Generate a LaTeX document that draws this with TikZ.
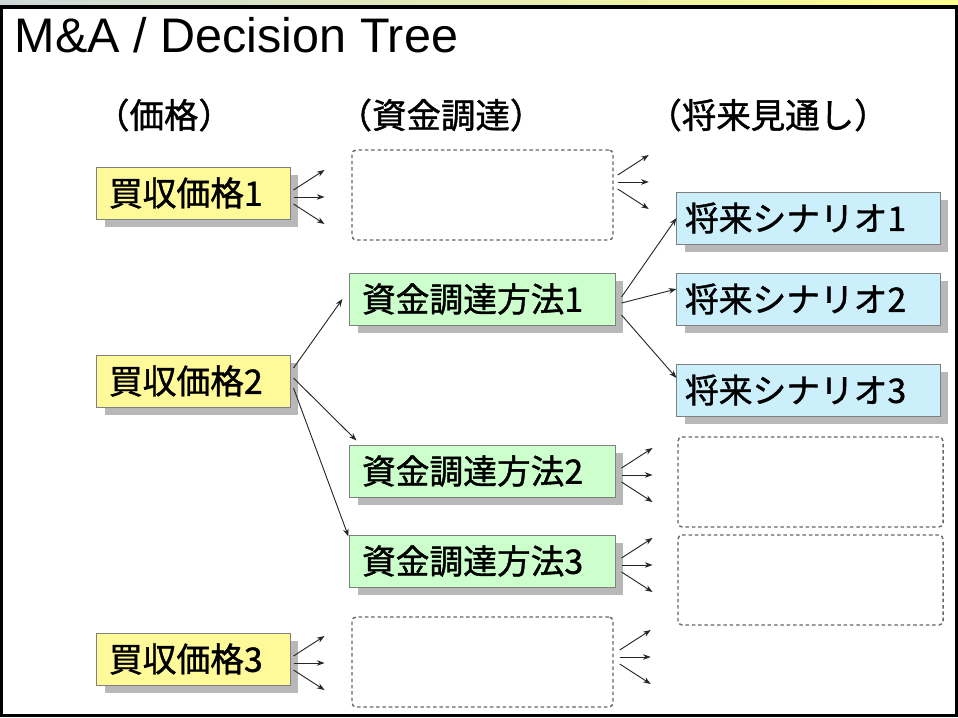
\documentclass[tikz,border=0pt]{standalone}
\usepackage{fontspec}
\setmainfont{Liberation Sans}
\newfontfamily\jpfont{Noto Sans CJK JP}[FakeBold=1.2]
\usetikzlibrary{arrows.meta,shadows}

\begin{document}
\begin{tikzpicture}[x=0.025cm,y=-0.025cm,arr/.style={-{Stealth[length=5.5pt,width=4pt]}, line width=0.65pt, black!85},tbox/.style={draw=black!50, line width=0.7pt, inner xsep=0.3cm, inner ysep=0pt, minimum height=1.3cm, align=left, font=\jpfont\fontsize{24}{24}\selectfont, drop shadow={shadow xshift=0.2cm, shadow yshift=-0.2cm, fill=black!28, opacity=1}},price/.style={tbox, fill=yellow!40, text width=4.225cm},plan/.style={tbox, fill=green!20, text width=6.025cm},scen/.style={tbox, fill=cyan!20, inner xsep=0.2cm, text width=6.175cm},blank/.style={draw=black!60, dashed, dash pattern=on 2.5pt off 2pt, line width=1pt, rounded corners=3pt, minimum height=2.25cm},head/.style={font=\jpfont\fontsize{24.5}{24.5}\selectfont}]
\useasboundingbox (0,0) rectangle (958,717);
\shade[left color=cyan!25!black!20, right color=yellow!45] (0,0) rectangle (958,8);
\fill[white] (0,6) rectangle (958,717); \draw[line width=2.2pt] (1.5,7) rectangle (956.5,715.5);
\node[anchor=base west, font=\fontsize{34.5}{34.5}\selectfont] (title) at (10,52) {M\&A / Decision Tree};
\node[head] (h1) at (164,115) {（価格）}; \node[head] (h2) at (441,115) {（資金調達）}; \node[head] (h3) at (768,115) {（将来見通し）};
% price column
\node[price] (p1) at (193.5,193) {買収価格1}; \node[price] (p2) at (193.5,381) {買収価格2}; \node[price] (p3) at (193.5,659) {買収価格3};
% funding column
\node[blank, minimum width=6.525cm] (f0) at (482.5,195) {};
\node[plan] (f1) at (482.5,299) {資金調達方法1}; \node[plan] (f2) at (482.5,471) {資金調達方法2}; \node[plan] (f3) at (482.5,561) {資金調達方法3};
\node[blank, minimum width=6.525cm] (f4) at (482.5,662) {};
% outlook column
\node[scen] (s1) at (808.5,218) {将来シナリオ1}; \node[scen] (s2) at (808.5,299) {将来シナリオ2}; \node[scen] (s3) at (808.5,390) {将来シナリオ3};
\node[blank, minimum width=6.625cm] (e1) at (810.5,482) {}; \node[blank, minimum width=6.625cm] (e2) at (810.5,580) {};
% branches
\draw[arr] ([shift={(3,-13)}]p2.east) -- ([shift={(-7,0)}]f1.west); \draw[arr] ([shift={(3,-3)}]p2.east) -- ([shift={(7,-4)}]f2.north west); \draw[arr] ([shift={(3,7)}]p2.east) -- ([shift={(-1,2)}]f3.north west);
\draw[arr] ([shift={(6,-2)}]f1.east) -- (s1.west); \draw[arr] ([shift={(6,4)}]f1.east) -- ([shift={(0,-10)}]s2.west); \draw[arr] ([shift={(6,16)}]f1.east) -- ([shift={(0,-12)}]s3.west);
\foreach \src/\dx/\dy in {p1/3/4, p3/3/4, f2/6/4, f3/6/4, f0/4/-13, f4/6/-5} \foreach \k in {-1,0,1} \draw[arr] ([shift={(\dx,\dy+7*\k)}]\src.east) -- ++(31,20*\k);
\end{tikzpicture}
\end{document}
